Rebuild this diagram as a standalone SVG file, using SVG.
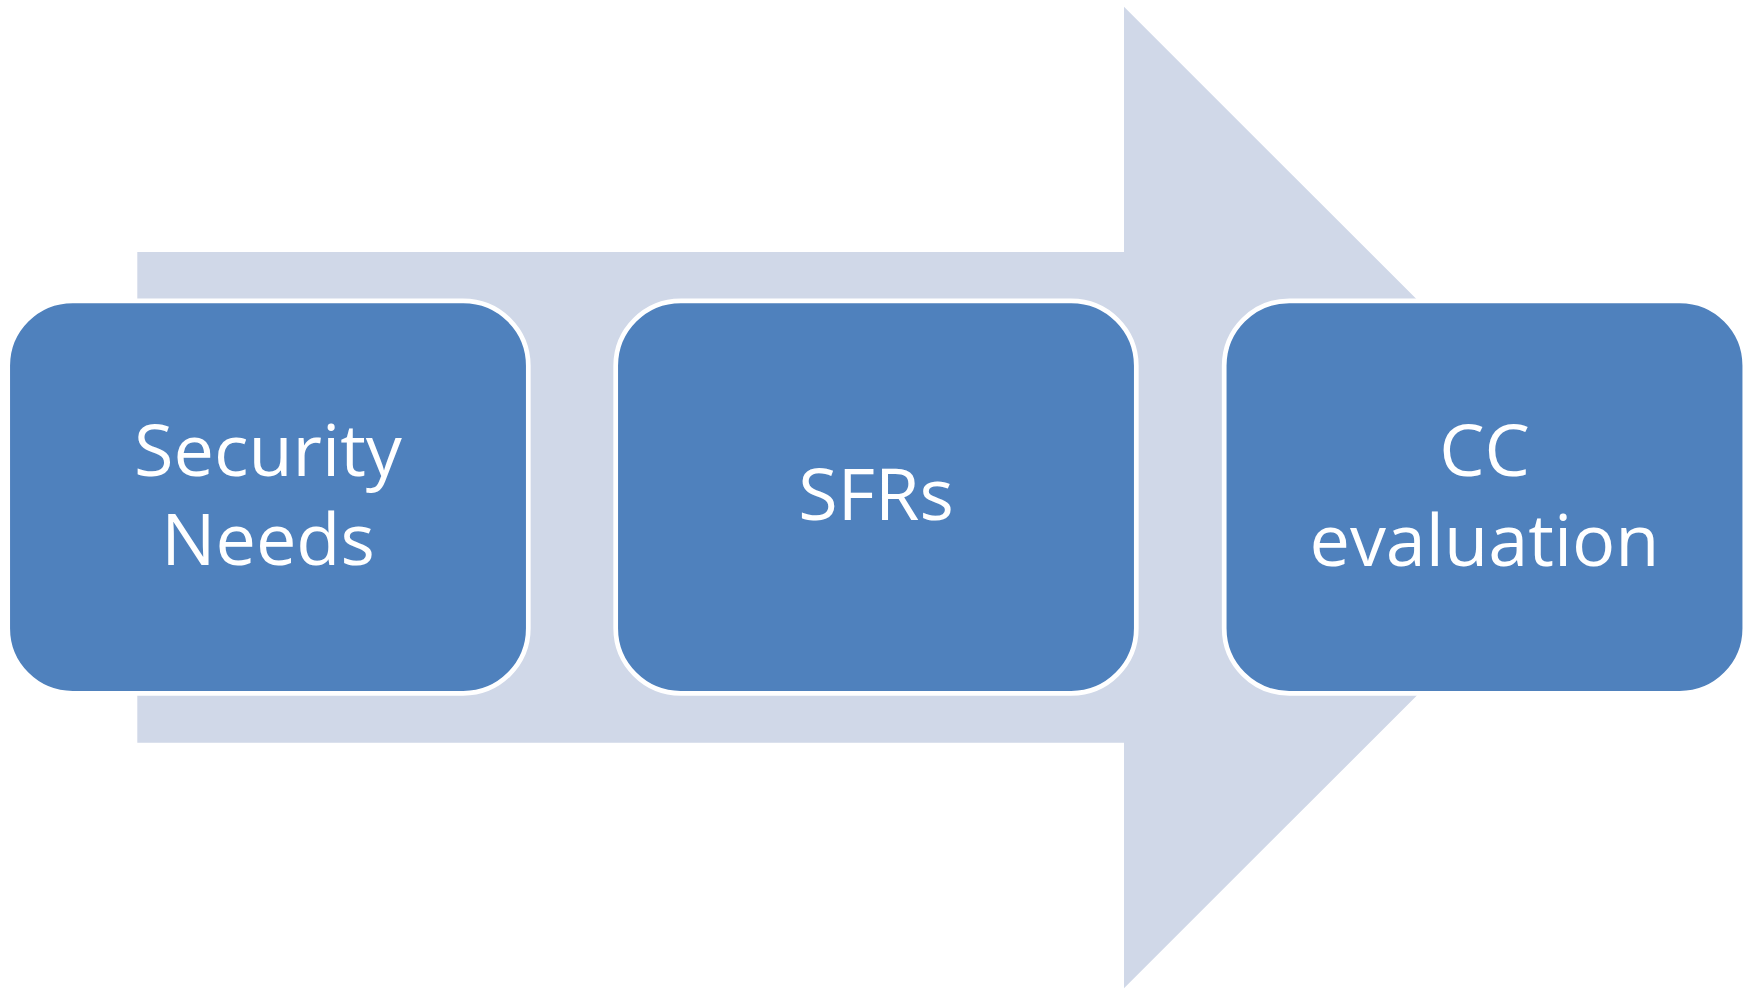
<svg xmlns="http://www.w3.org/2000/svg" width="1752" height="989" viewBox="0 0 1752 989">
<style>
.box{fill:#4F81BD;stroke:#FFFFFF;stroke-width:4.7}
.lbl{fill:#FFFFFF;font-family:"Open Sans","Noto Sans",sans-serif;font-size:72px;text-anchor:middle}
</style>
<rect width="1752" height="989" fill="#FFFFFF"/>
<g id="connectors">
<path d="M137.3,252 L1124,252 L1124,6.7 L1615,497.5 L1124,988.3 L1124,742.7 L137.3,742.7 Z" fill="#D0D8E8"/>
</g>
<g id="node-security-needs">
<rect class="box" x="7.7" y="300.8" width="520.6" height="392.5" rx="65" ry="65"/>
<text class="lbl" x="268" y="476">Security</text>
<text class="lbl" x="268" y="565">Needs</text>
</g>
<g id="node-sfrs">
<rect class="box" x="615.7" y="300.8" width="520.6" height="392.5" rx="65" ry="65"/>
<text class="lbl" x="876" y="520">SFRs</text>
</g>
<g id="node-cc-evaluation">
<rect class="box" x="1224.2" y="300.8" width="520.6" height="392.5" rx="65" ry="65"/>
<text class="lbl" x="1484.5" y="476">CC</text>
<text class="lbl" x="1484.5" y="566">evaluation</text>
</g>
</svg>
